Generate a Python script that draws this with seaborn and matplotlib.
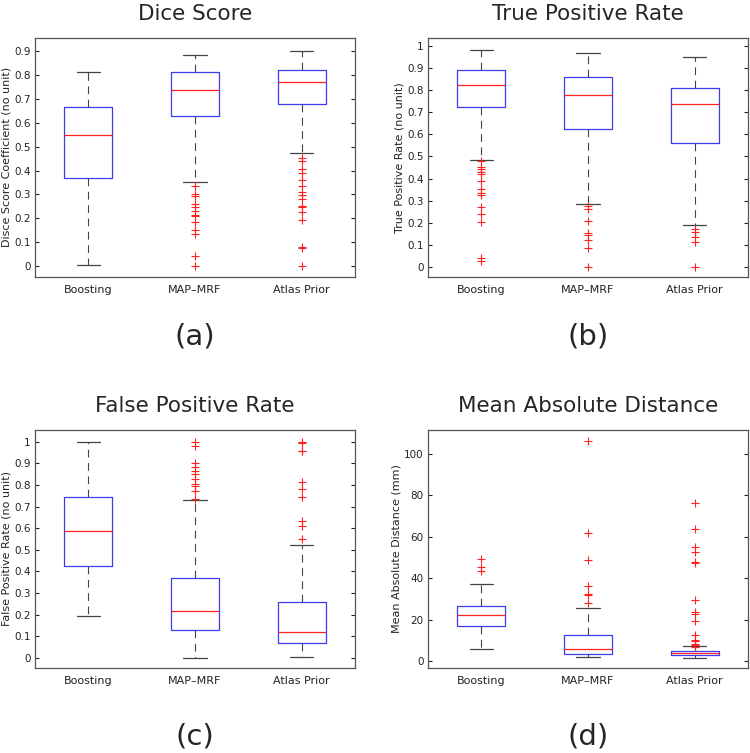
import matplotlib
matplotlib.use("Agg")
import matplotlib.pyplot as plt
import seaborn as sns

# Config
methods = ["Boosting", "MAP\u2013MRF", "Atlas Prior"]

# Dice score: whislo, q1, median, q3, whishi per method, plus outliers
dice_whislo = [0.007, 0.354, 0.473]
dice_q1 = [0.368, 0.629, 0.676]
dice_med = [0.547, 0.738, 0.770]
dice_q3 = [0.664, 0.813, 0.821]
dice_whishi = [0.813, 0.883, 0.900]
dice_fliers = [
    [],
    [0.337, 0.300, 0.293, 0.259, 0.247, 0.232, 0.216, 0.210, 0.185, 0.151, 0.137, 0.044, 0.0],
    [0.451, 0.441, 0.405, 0.391, 0.362, 0.337, 0.310, 0.299, 0.281, 0.250, 0.247, 0.227,
     0.192, 0.079, 0.075, 0.0],
]

# True positive rate
tpr_whislo = [0.483, 0.285, 0.187]
tpr_q1 = [0.725, 0.626, 0.560]
tpr_med = [0.825, 0.780, 0.739]
tpr_q3 = [0.891, 0.860, 0.811]
tpr_whishi = [0.983, 0.970, 0.952]
tpr_fliers = [
    [0.478, 0.452, 0.442, 0.430, 0.419, 0.389, 0.351, 0.333, 0.327, 0.271, 0.240, 0.204,
     0.041, 0.026],
    [0.275, 0.261, 0.205, 0.151, 0.142, 0.121, 0.083, 0.0],
    [0.170, 0.158, 0.133, 0.110, 0.0],
]

# False positive rate
fpr_whislo = [0.194, 0.0, 0.005]
fpr_q1 = [0.423, 0.129, 0.069]
fpr_med = [0.586, 0.215, 0.118]
fpr_q3 = [0.742, 0.368, 0.257]
fpr_whishi = [0.997, 0.731, 0.523]
fpr_fliers = [
    [],
    [1.0, 0.980, 0.903, 0.882, 0.862, 0.850, 0.828, 0.805, 0.795, 0.772, 0.737],
    [1.0, 0.992, 0.958, 0.955, 0.815, 0.780, 0.742, 0.631, 0.612, 0.551],
]

# Mean absolute distance (mm)
mad_whislo = [6.1, 2.1, 1.6]
mad_q1 = [17.2, 3.4, 2.9]
mad_med = [22.3, 5.8, 3.9]
mad_q3 = [26.5, 12.5, 4.8]
mad_whishi = [37.2, 25.7, 7.4]
mad_fliers = [
    [49.3, 45.7, 43.7],
    [106.3, 62.1, 49.1, 36.3, 32.7, 32.1, 28.1],
    [76.6, 63.7, 55.1, 52.6, 47.8, 47.2, 29.7, 23.6, 23.0, 19.6, 12.8, 10.4, 9.6, 8.5,
     7.7, 6.9],
]

sns.set_style("white")
plt.rcParams['font.family'] = ['DejaVu Sans']


def make_stats(whislo, q1, med, q3, whishi, fliers):
    stats = []
    for i, name in enumerate(methods):
        stats.append({
            'label': name, 'whislo': whislo[i], 'q1': q1[i], 'med': med[i],
            'q3': q3[i], 'whishi': whishi[i], 'fliers': fliers[i],
        })
    return stats


def draw_panel(ax, stats, title, ylabel, ylim, yticks, yticklabels, letter, letter_y):
    ax.bxp(
        stats, positions=[1, 2, 3], widths=0.45, capwidths=0.22,
        boxprops=dict(color='#3b3bf0', linewidth=0.9),
        medianprops=dict(color='#ff2020', linewidth=0.9),
        whiskerprops=dict(color='#444444', linewidth=0.8, linestyle=(0, (7, 5))),
        capprops=dict(color='#444444', linewidth=0.9),
        flierprops=dict(marker='+', markeredgecolor='#ff2020', markersize=6,
                        markeredgewidth=0.8, linestyle='none'),
    )
    ax.set_xlim(0.5, 3.5)
    ax.set_ylim(*ylim)
    ax.set_yticks(yticks)
    ax.set_yticklabels(yticklabels)
    ax.set_xticks([1, 2, 3])
    ax.set_xticklabels(methods)
    ax.tick_params(axis='y', direction='in', right=True, left=True, length=3,
                   labelsize=7.5, colors='#222222', pad=3)
    ax.tick_params(axis='x', length=0, labelsize=8, colors='#222222', pad=6)
    ax.set_ylabel(ylabel, fontsize=8, color='#222222', labelpad=2)
    ax.set_title(title, fontsize=15.5, pad=13)
    for s in ax.spines.values():
        s.set_color('#555555')
        s.set_linewidth(0.9)
    ax.text(0.5, letter_y, letter, transform=ax.transAxes, ha='center', va='center',
            fontsize=21)


fig = plt.figure(figsize=(7.5, 7.53), dpi=100)
ax_a = fig.add_axes([0.0467, 0.632, 0.4266, 0.318])
ax_b = fig.add_axes([0.5707, 0.632, 0.4266, 0.318])
ax_c = fig.add_axes([0.0467, 0.113, 0.4266, 0.316])
ax_d = fig.add_axes([0.5707, 0.113, 0.4266, 0.316])

draw_panel(ax_a, make_stats(dice_whislo, dice_q1, dice_med, dice_q3, dice_whishi, dice_fliers),
           "Dice Score", "Disce Score Coefficient (no unit)", (-0.045, 0.955),
           [0, 0.1, 0.2, 0.3, 0.4, 0.5, 0.6, 0.7, 0.8, 0.9],
           ["0", "0.1", "0.2", "0.3", "0.4", "0.5", "0.6", "0.7", "0.8", "0.9"], "(a)", -0.25)
draw_panel(ax_b, make_stats(tpr_whislo, tpr_q1, tpr_med, tpr_q3, tpr_whishi, tpr_fliers),
           "True Positive Rate", "True Positive Rate (no unit)", (-0.048, 1.04),
           [0, 0.1, 0.2, 0.3, 0.4, 0.5, 0.6, 0.7, 0.8, 0.9, 1],
           ["0", "0.1", "0.2", "0.3", "0.4", "0.5", "0.6", "0.7", "0.8", "0.9", "1"], "(b)", -0.25)
draw_panel(ax_c, make_stats(fpr_whislo, fpr_q1, fpr_med, fpr_q3, fpr_whishi, fpr_fliers),
           "False Positive Rate", "False Positive Rate (no unit)", (-0.046, 1.054),
           [0, 0.1, 0.2, 0.3, 0.4, 0.5, 0.6, 0.7, 0.8, 0.9, 1],
           ["0", "0.1", "0.2", "0.3", "0.4", "0.5", "0.6", "0.7", "0.8", "0.9", "1"], "(c)", -0.29)
draw_panel(ax_d, make_stats(mad_whislo, mad_q1, mad_med, mad_q3, mad_whishi, mad_fliers),
           "Mean Absolute Distance", "Mean Absolute Distance (mm)", (-3.2, 111.6),
           [0, 20, 40, 60, 80, 100], ["0", "20", "40", "60", "80", "100"], "(d)", -0.29)

fig.savefig("out.png", dpi=100)
